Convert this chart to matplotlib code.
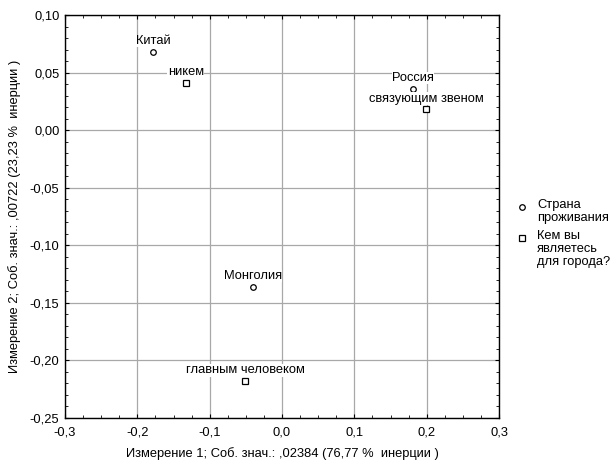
import matplotlib
matplotlib.use("Agg")
import matplotlib.pyplot as plt
from matplotlib.ticker import FuncFormatter, MultipleLocator
from matplotlib.lines import Line2D

plt.rcParams['font.family'] = ['Liberation Sans', 'DejaVu Sans']

# Series 1: Страна проживания
country_labels = ["Китай", "Россия", "Монголия"]
country_x = [-0.178, 0.181, -0.040]
country_y = [0.068, 0.036, -0.136]

# Series 2: Кем вы являетесь для города?
role_labels = ["никем", "связующим звеном", "главным человеком"]
role_x = [-0.133, 0.199, -0.051]
role_y = [0.041, 0.018, -0.218]

legend_labels = ["Страна\nпроживания", "Кем вы\nявляетесь\nдля города?"]
xlabel = "Измерение 1; Соб. знач.: ,02384 (76,77 %  инерции )"
ylabel = "Измерение 2; Соб. знач.: ,00722 (23,23 %  инерции )"

fig = plt.figure(figsize=(6.11, 4.63), dpi=100)
ax = fig.add_axes([0.1064, 0.0972, 0.7103, 0.8704])

ax.set_xlim(-0.3, 0.3)
ax.set_ylim(-0.25, 0.10)
ax.xaxis.set_major_locator(MultipleLocator(0.1))
ax.xaxis.set_minor_locator(MultipleLocator(0.025))
ax.yaxis.set_major_locator(MultipleLocator(0.05))
ax.yaxis.set_minor_locator(MultipleLocator(0.01))
ax.xaxis.set_major_formatter(FuncFormatter(lambda v, p: f"{v:.1f}".replace('.', ',').replace('-0,0', '0,0')))
ax.yaxis.set_major_formatter(FuncFormatter(lambda v, p: f"{v:.2f}".replace('.', ',').replace('-0,00', '0,00')))
ax.tick_params(which='both', direction='in', top=True, right=True, labelsize=9.3, color='black')
ax.tick_params(which='major', length=3, pad=4)
ax.tick_params(axis='x', which='major', pad=6)
ax.tick_params(which='minor', length=2)
ax.grid(True, which='major', color='#a8a8a8', linewidth=0.9)
ax.set_axisbelow(True)
for s in ax.spines.values():
    s.set_linewidth(1.0)

ms_c, ms_s = 4, 4.5
ax.plot(country_x, country_y, linestyle='none', marker='o', markersize=ms_c,
        markerfacecolor='white', markeredgecolor='black', markeredgewidth=0.9, zorder=3)
ax.plot(role_x, role_y, linestyle='none', marker='s', markersize=ms_s,
        markerfacecolor='white', markeredgecolor='black', markeredgewidth=0.9, zorder=3)

for lbl, x, y in zip(country_labels + role_labels, country_x + role_x, country_y + role_y):
    ax.annotate(lbl, (x, y), xytext=(0, 3.5), textcoords='offset points',
                ha='center', va='bottom', fontsize=9.3,
                bbox=dict(facecolor='white', edgecolor='none', pad=0.2), zorder=4)

ax.set_xlabel(xlabel, fontsize=9.3, labelpad=6)
ax.set_ylabel(ylabel, fontsize=9.3, labelpad=6)

# Legend drawn at right side
W, H = 611.0, 463.0
leg_marker_x = 522 / W
leg_text_x = 537 / W
leg_rows_px = [207, 238]
for (mk, ms), lbl, ypx in zip([('o', ms_c), ('s', ms_s)], legend_labels, leg_rows_px):
    fig.add_artist(Line2D([leg_marker_x], [1 - ypx / H], transform=fig.transFigure,
                          linestyle='none', marker=mk, markersize=ms,
                          markerfacecolor='white', markeredgecolor='black', markeredgewidth=0.9))
    fig.text(leg_text_x, 1 - (ypx - 8) / H, lbl, ha='left', va='top', fontsize=9.3,
             linespacing=1.1)

fig.savefig("out.png", dpi=100)
